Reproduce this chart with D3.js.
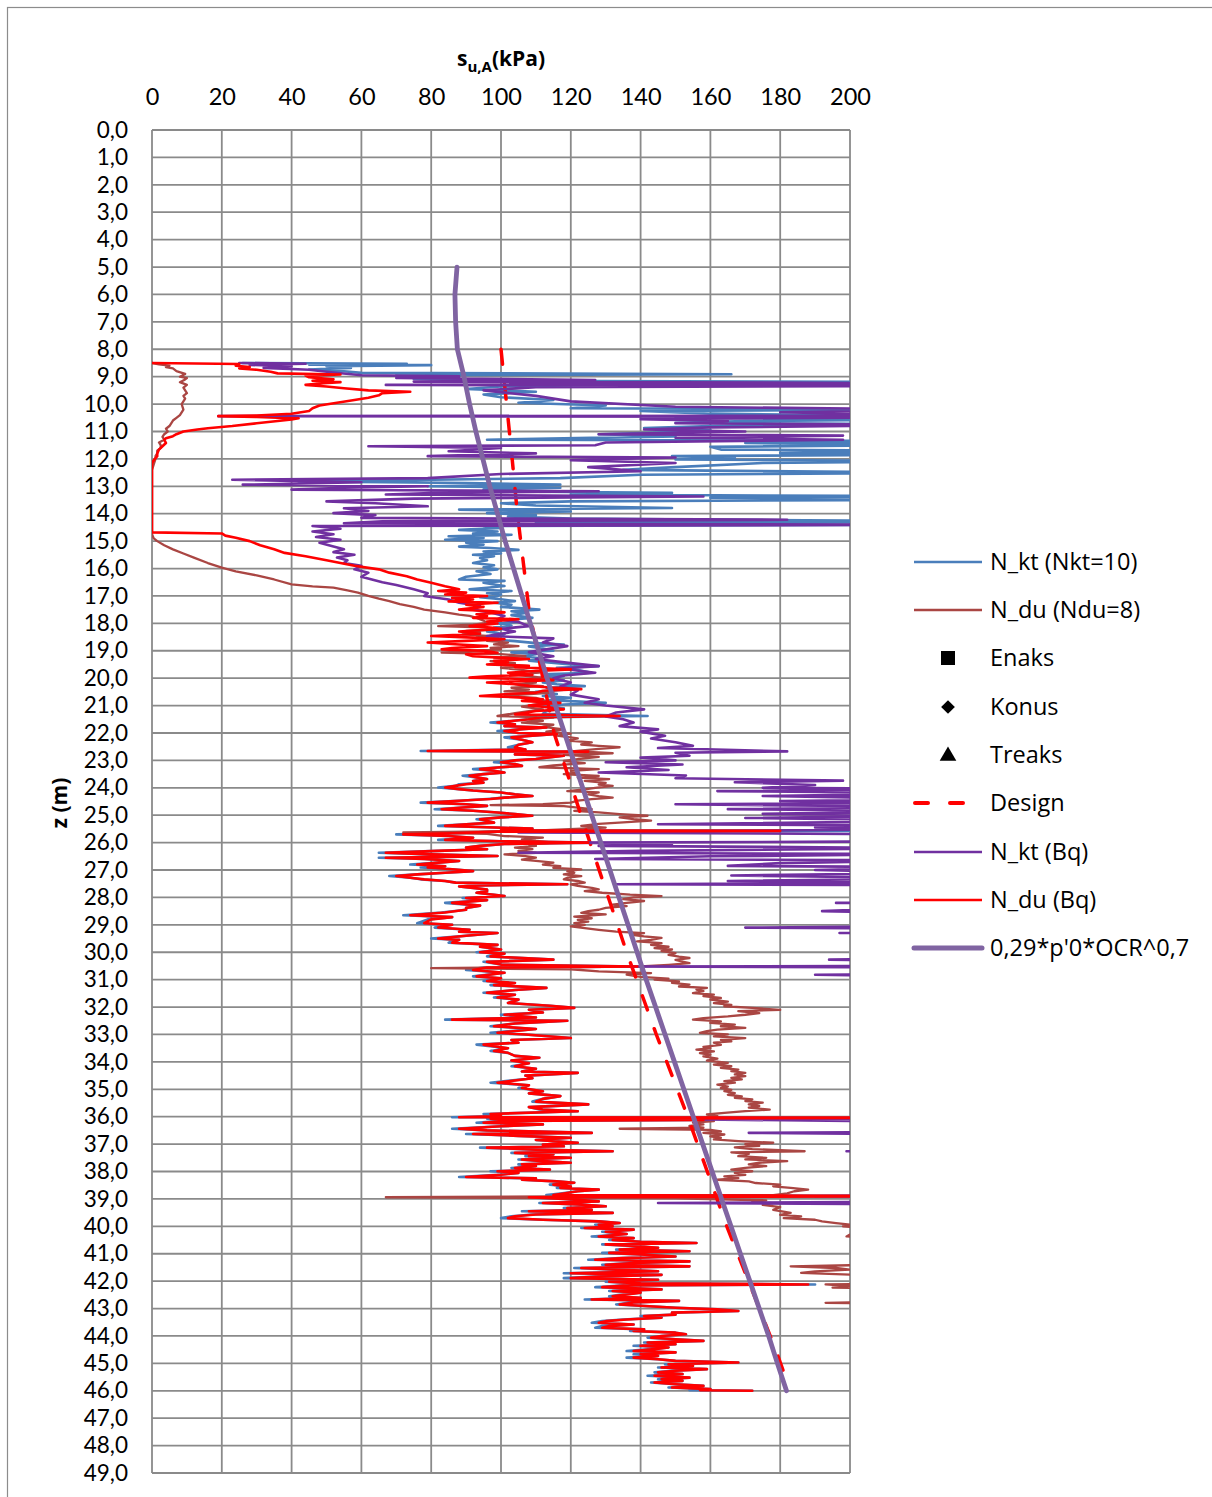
<!DOCTYPE html>
<html><head><meta charset="utf-8">
<script src="https://cdn.jsdelivr.net/npm/d3@7/dist/d3.min.js"></script>
<style>body{margin:0;background:#fff}svg{display:block}</style>
</head><body>
<script>
// ---------- DATA (depth z [m], s_u [kPa]) ----------
const xTicks = [0,20,40,60,80,100,120,140,160,180,200];
const yTicks = d3.range(0,50,1);
const legendLabels = ["N_kt (Nkt=10)","N_du (Ndu=8)","Enaks","Konus","Treaks","Design","N_kt (Bq)","N_du (Bq)","0,29*p'0*OCR^0,7"];

const nktUpper = [[8.50,26],[8.53,73],[8.56,45],[8.58,80],[8.62,50],[8.68,57],[8.74,45],[8.8,55],[8.86,60],[8.91,166],[8.95,70],[9.02,88],[9.08,75],[9.15,95],[9.2,230],[9.24,110],[9.3,127],[9.36,100],[9.45,90],[9.55,110],[9.65,95],[9.75,100],[9.85,115],[9.95,105],[10.05,130],[10.15,120],[10.2,230],[10.25,140],[10.35,160],[10.45,230],[10.5,150],[10.55,230],[10.62,170],[10.68,150],[10.74,230],[10.8,160],[10.87,141],[10.95,160],[11.02,150],[11.1,128],[11.18,150],[11.3,96],[11.35,230],[11.42,170],[11.48,230],[11.56,160],[11.66,163],[11.7,230],[11.78,180],[11.84,230],[11.9,149],[11.96,167],[12.02,150],[12.09,230],[12.15,175],[12.3,150],[12.4,135],[12.51,230],[12.58,140],[12.7,117],[12.82,42],[12.88,90],[12.94,117],[13.0,79],[13.05,117],[13.12,95],[13.2,110],[13.24,149],[13.3,120],[13.37,230],[13.42,160],[13.49,230],[13.55,120],[13.62,100],[13.7,110],[13.79,149],[13.85,88],[13.92,120],[13.98,96],[14.05,110],[14.1,102],[14.18,120],[14.28,230],[14.32,110],[14.4,230],[14.45,95],[14.52,100],[14.59,88],[14.65,99],[14.72,92],[14.77,103],[14.82,85],[14.88,95],[14.95,84],[15.0,99],[15.06,90],[15.13,95],[15.2,88],[15.25,97],[15.32,105],[15.38,95],[15.45,100],[15.5,92],[15.55,98],[15.62,94],[15.7,96],[15.8,92],[15.88,98],[15.95,95],[16.03,99],[16.1,93],[16.2,97],[16.3,90],[16.4,88],[16.45,101],[16.52,95],[16.58,98],[16.64,101],[16.7,96],[16.76,91],[16.82,103],[16.9,96],[16.95,100],[17.0,99],[17.05,94],[17.12,100],[17.19,104],[17.25,98],[17.32,103],[17.4,100],[17.5,111],[17.56,103],[17.62,107],[17.7,103],[17.8,109],[17.88,101],[17.95,105],[18.0,99],[18.08,103],[18.15,98],[18.22,100],[18.3,96],[18.4,101],[18.5,99],[18.58,97],[18.65,104],[18.72,110],[18.77,118],[18.84,108],[18.92,112],[19.0,115],[19.06,103],[19.13,110],[19.2,106],[19.28,112],[19.36,108],[19.45,116],[19.5,120],[19.56,128],[19.62,116],[19.7,122],[19.8,126],[19.86,112],[19.93,118],[20.0,110],[20.08,118],[20.16,112],[20.22,116],[20.29,124],[20.35,113],[20.42,118],[20.5,110],[20.58,116],[20.65,112],[20.72,120],[20.8,114],[20.9,130],[20.96,118],[21.04,112],[21.1,118],[21.2,113],[21.3,112],[21.38,142],[21.42,112]];

const nktLower = [[21.5,108],[21.56,103],[21.62,97],[21.68,104],[21.75,101],[21.8,113],[21.86,106],[21.93,99],[22.0,105],[22.04,116],[22.1,109],[22.16,101],[22.25,106],[22.34,109],[22.43,105],[22.52,102],[22.6,107],[22.66,77],[22.68,125],[22.72,112],[22.78,104],[22.83,118],[22.9,113],[22.95,110],[23.0,104],[23.07,98],[23.13,104],[23.2,106],[23.26,99],[23.32,92],[23.38,98],[23.44,101],[23.5,95],[23.56,89],[23.62,93],[23.68,96],[23.75,92],[23.81,95],[23.87,88],[23.93,87],[23.99,82],[24.05,88],[24.1,92],[24.17,100],[24.24,104],[24.3,109],[24.36,101],[24.41,96],[24.47,88],[24.54,77],[24.6,90],[24.66,96],[24.72,89],[24.78,81],[24.84,92],[24.9,99],[24.96,104],[25.02,109],[25.08,100],[25.15,93],[25.21,96],[25.27,98],[25.33,90],[25.39,82],[25.44,96],[25.49,109],[25.55,100],[25.57,230],[25.6,99],[25.66,86],[25.7,70],[25.76,85],[25.82,92],[25.86,88],[25.9,82],[25.95,100],[26.0,125],[26.05,101],[26.12,94],[26.18,90],[26.24,96],[26.3,82],[26.37,65],[26.43,80],[26.49,99],[26.52,84],[26.55,65],[26.6,78],[26.67,88],[26.73,82],[26.8,74],[26.86,84],[26.91,77],[26.97,86],[27.04,92],[27.1,84],[27.16,76],[27.22,68],[27.28,74],[27.34,77],[27.4,84],[27.46,87],[27.52,119],[27.56,94],[27.6,88],[27.65,92],[27.71,96],[27.77,96],[27.83,93],[27.9,98],[27.95,101],[28.02,89],[28.1,96],[28.2,84],[28.3,94],[28.38,90],[28.45,90],[28.55,83],[28.65,72],[28.72,86],[28.8,79],[28.94,76],[29.0,86],[29.1,81],[29.18,91],[29.25,88],[29.3,99],[29.4,90],[29.5,80],[29.55,88],[29.65,85],[29.73,99],[29.8,94],[29.9,100],[30.0,93],[30.05,101],[30.15,96],[30.27,115],[30.35,95],[30.45,100],[30.52,139],[30.56,95],[30.65,90],[30.75,101],[30.88,92],[30.95,100],[31.05,95],[31.12,104],[31.2,97],[31.3,113],[31.38,104],[31.48,95],[31.55,104],[31.65,98],[31.73,105],[31.85,102],[31.95,114],[32.03,121],[32.1,108],[32.2,112],[32.28,100],[32.38,110],[32.46,84],[32.5,119],[32.6,104],[32.7,97],[32.8,110],[32.94,97],[33.0,107],[33.13,120],[33.2,103],[33.3,105],[33.37,93],[33.5,102],[33.6,97],[33.67,102],[33.78,104],[33.85,111],[33.95,103],[34.05,108],[34.16,103],[34.25,110],[34.35,106],[34.4,122],[34.5,107],[34.6,109],[34.76,97],[34.85,108],[34.95,105],[35.07,112],[35.15,108],[35.25,117],[35.35,112],[35.45,109],[35.55,125],[35.65,108],[35.74,111],[35.8,122],[35.9,95],[35.98,100],[36.02,86],[36.04,230],[36.07,96],[36.12,158],[36.16,99],[36.22,93],[36.28,112],[36.35,100],[36.44,86],[36.5,96],[36.59,126],[36.63,90],[36.7,105],[36.77,120],[36.85,110],[36.95,122],[37.02,112],[37.08,118],[37.13,94],[37.2,110],[37.26,132],[37.32,103],[37.38,115],[37.44,107],[37.5,120],[37.56,105],[37.62,112],[37.68,120],[37.74,105],[37.8,110],[37.87,103],[37.93,114],[37.99,97],[38.05,105],[38.12,99],[38.2,88],[38.25,110],[38.3,106],[38.36,116],[38.41,121],[38.48,114],[38.55,120],[38.6,116],[38.66,128],[38.72,122],[38.8,117],[38.86,113],[38.9,230],[38.94,107],[39.0,118],[39.09,128],[39.15,111],[39.2,122],[39.27,130],[39.33,118],[39.4,126],[39.45,106],[39.51,132],[39.57,109],[39.63,103],[39.7,100],[39.76,112],[39.82,128],[39.88,134],[39.94,127],[40.0,132],[40.06,123],[40.12,138],[40.2,129],[40.28,136],[40.37,126],[40.43,138],[40.5,131],[40.56,140],[40.61,156],[40.66,129],[40.72,138],[40.78,145],[40.85,133],[40.91,154],[40.97,129],[41.03,140],[41.1,150],[41.16,134],[41.22,125],[41.28,154],[41.34,137],[41.4,129],[41.46,154],[41.52,121],[41.58,133],[41.64,145],[41.71,118],[41.77,146],[41.83,127],[41.89,118],[41.95,145],[42.02,130],[42.08,140],[42.12,190],[42.16,134],[42.22,127],[42.3,146],[42.36,131],[42.42,140],[42.5,134],[42.55,131],[42.61,140],[42.67,124],[42.72,151],[42.78,137],[42.85,133],[42.9,140],[42.97,150],[43.03,162],[43.09,168],[43.15,149],[43.22,150],[43.27,140],[43.33,146],[43.4,135],[43.46,129],[43.52,126],[43.58,138],[43.64,129],[43.7,127],[43.76,141],[43.82,137],[43.88,150],[43.94,153],[44.0,146],[44.06,142],[44.12,150],[44.18,158],[44.24,141],[44.3,150],[44.36,138],[44.42,148],[44.48,143],[44.55,136],[44.6,150],[44.67,138],[44.73,145],[44.79,136],[44.85,145],[44.91,150],[44.97,168],[45.03,147],[45.09,155],[45.15,145],[45.21,159],[45.27,149],[45.33,144],[45.39,152],[45.45,142],[45.52,154],[45.58,145],[45.64,152],[45.7,143],[45.76,150],[45.82,158],[45.88,148],[45.94,160],[45.98,154],[46.0,172]];

const nduNdu8 = [[8.5,0],[8.55,2],[8.6,5],[8.65,4],[8.7,6],[8.8,7],[8.9,9.5],[9.0,8],[9.05,10],[9.1,9.5],[9.2,8],[9.3,10],[9.4,9],[9.5,9.5],[9.6,10],[9.7,9],[9.8,9.5],[9.9,9],[10.0,8.5],[10.2,9],[10.4,8],[10.5,7],[10.6,6],[10.7,5.5],[10.8,5],[10.9,4],[11.0,4.5],[11.1,3.5],[11.2,3],[11.3,3.5],[11.4,2],[11.5,2.5],[11.6,2.5],[11.7,1.5],[11.8,1.5],[11.9,1],[12.0,1],[12.2,0.5],[12.4,0],[14.75,0],[14.9,0.5],[15.0,1.5],[15.15,3.5],[15.3,6],[15.45,9],[15.6,12],[15.8,16],[15.97,20],[16.1,24],[16.25,30],[16.4,35],[16.58,40],[16.65,46],[16.7,52],[16.8,56],[16.88,59],[17.0,62],[17.1,65],[17.19,68],[17.3,71],[17.4,75],[17.5,78],[17.6,84],[17.68,88],[17.73,91],[17.8,93],[17.9,95],[17.98,96],[18.05,92],[18.1,82],[18.15,95],[18.22,99],[18.28,90],[18.34,94],[18.4,89],[18.46,96],[18.52,93],[18.58,100],[18.64,96],[18.7,102],[18.77,98],[18.83,105],[18.9,97],[18.95,100],[19.0,92],[19.07,83],[19.12,100],[19.2,107],[19.25,98],[19.3,103],[19.38,97],[19.45,104],[19.5,101],[19.56,108],[19.62,100],[19.7,106],[19.8,111],[19.86,104],[19.93,108],[20.04,115],[20.1,106],[20.16,110],[20.22,104],[20.29,112],[20.35,103],[20.42,108],[20.48,101],[20.53,115],[20.6,106],[20.65,101],[20.72,110],[20.8,112],[20.9,115],[20.96,110],[21.04,106],[21.14,112],[21.2,108],[21.28,104],[21.38,99],[21.44,115],[21.5,108],[21.56,112],[21.62,106],[21.7,115],[21.78,112],[21.87,118],[21.95,113],[22.02,120],[22.1,116],[22.2,122],[22.28,119],[22.34,126],[22.42,123],[22.47,128],[22.52,134],[22.58,128],[22.66,121],[22.74,132],[22.8,118],[22.87,128],[22.95,122],[23.02,118],[23.1,124],[23.18,115],[23.25,111],[23.32,128],[23.38,120],[23.44,122],[23.5,118],[23.57,128],[23.63,122],[23.68,131],[23.75,124],[23.82,130],[23.88,128],[23.93,132],[24.0,127],[24.06,124],[24.12,119],[24.17,128],[24.24,125],[24.3,128],[24.36,132],[24.41,126],[24.47,122],[24.54,120],[24.6,112],[24.63,97],[24.67,118],[24.72,122],[24.78,126],[24.84,121],[24.9,128],[24.96,134],[25.02,142],[25.08,134],[25.14,138],[25.2,143],[25.26,135],[25.32,128],[25.39,123],[25.45,130],[25.52,118],[25.58,106],[25.63,72],[25.68,96],[25.76,101],[25.82,112],[25.88,106],[25.94,110],[26.0,115],[26.06,108],[26.12,110],[26.18,104],[26.24,109],[26.3,105],[26.37,110],[26.43,101],[26.49,107],[26.55,110],[26.62,106],[26.67,110],[26.73,115],[26.8,112],[26.86,117],[26.92,115],[26.98,123],[27.04,119],[27.1,121],[27.16,118],[27.22,123],[27.28,119],[27.34,118],[27.4,122],[27.46,124],[27.52,120],[27.58,122],[27.65,126],[27.71,128],[27.77,124],[27.83,129],[27.9,137],[27.95,146],[28.0,138],[28.06,135],[28.13,141],[28.2,136],[28.26,132],[28.32,136],[28.38,130],[28.45,128],[28.5,125],[28.56,123],[28.62,130],[28.7,121],[28.76,126],[28.82,122],[28.88,125],[28.94,121],[29.0,124],[29.06,120],[29.12,124],[29.18,128],[29.25,133],[29.3,141],[29.36,137],[29.42,141],[29.48,146],[29.55,143],[29.6,139],[29.67,146],[29.73,143],[29.8,148],[29.85,144],[29.9,149],[29.96,146],[30.03,150],[30.1,148],[30.16,151],[30.21,154],[30.28,150],[30.34,152],[30.4,154],[30.46,148],[30.52,140],[30.58,80],[30.62,120],[30.7,128],[30.76,143],[30.82,136],[30.9,140],[30.96,148],[31.0,144],[31.06,151],[31.12,149],[31.18,154],[31.25,151],[31.3,159],[31.36,156],[31.42,158],[31.49,155],[31.55,161],[31.6,158],[31.67,163],[31.73,160],[31.8,165],[31.86,161],[31.92,166],[31.97,164],[32.03,172],[32.1,180],[32.15,168],[32.22,174],[32.28,170],[32.34,165],[32.4,158],[32.46,155],[32.52,163],[32.58,160],[32.64,167],[32.7,163],[32.76,170],[32.82,162],[32.88,159],[32.94,157],[33.0,165],[33.07,161],[33.13,170],[33.2,163],[33.25,166],[33.3,161],[33.38,163],[33.45,158],[33.5,160],[33.55,156],[33.62,161],[33.68,157],[33.74,160],[33.8,158],[33.88,162],[33.95,159],[34.04,165],[34.1,161],[34.16,166],[34.22,163],[34.28,168],[34.34,166],[34.4,170],[34.46,167],[34.52,170],[34.58,166],[34.64,169],[34.7,164],[34.76,167],[34.83,162],[34.9,165],[34.96,163],[35.02,166],[35.07,164],[35.14,167],[35.2,165],[35.26,169],[35.31,167],[35.37,172],[35.43,170],[35.49,175],[35.55,171],[35.61,174],[35.67,171],[35.74,177],[35.8,170],[35.86,164],[35.92,159],[35.98,162],[36.04,158],[36.1,157],[36.16,161],[36.22,155],[36.28,158],[36.34,154],[36.4,158],[36.44,134],[36.48,160],[36.54,163],[36.59,158],[36.65,164],[36.72,160],[36.77,163],[36.83,161],[36.89,168],[36.95,178],[37.0,170],[37.06,174],[37.12,167],[37.18,172],[37.26,187],[37.3,166],[37.36,171],[37.44,168],[37.5,176],[37.56,170],[37.62,182],[37.68,174],[37.74,171],[37.8,176],[37.87,170],[37.93,166],[37.99,172],[38.05,167],[38.12,170],[38.18,164],[38.24,168],[38.3,162],[38.36,171],[38.42,173],[38.48,180],[38.54,178],[38.6,183],[38.66,188],[38.72,184],[38.8,182],[38.86,178],[38.94,67],[38.98,150],[39.05,176],[39.1,172],[39.15,178],[39.22,175],[39.3,180],[39.4,178],[39.51,183],[39.58,180],[39.64,186],[39.7,181],[39.76,190],[39.82,192],[39.88,196],[39.94,200],[40.0,198],[40.06,205],[40.15,230],[40.3,200],[40.37,199],[40.45,230],[41.35,230],[41.46,183],[41.52,196],[41.58,200],[41.64,190],[41.7,186],[41.76,200],[41.84,230],[42.05,230],[42.12,193],[42.18,200],[42.24,195],[42.3,230],[42.7,230],[42.79,193],[42.85,230],[46.0,230]];

const designLine = [[8.0,100],[10,101.6],[12,103.2],[14,104.7],[16,106.6],[17.5,108],[22,115.2],[26,125.5],[30,136],[33,144.5],[36,153.5],[40,164.7],[44.6,179],[45.4,181.2]];

const nktBq = [[8.50,25],[8.53,44],[8.57,28],[8.62,40],[8.68,32],[8.75,45],[8.85,52],[8.95,60],[8.99,88],[9.05,70],[9.12,127],[9.18,75],[9.24,230],[9.30,67],[9.34,230],[9.38,110],[9.5,95],[9.7,110],[9.9,120],[10.1,150],[10.2,230],[10.3,180],[10.42,230],[10.44,19],[10.47,230],[10.55,140],[10.62,165],[10.7,150],[10.76,230],[10.85,160],[10.93,141],[11.0,170],[11.1,128],[11.15,198],[11.23,150],[11.3,198],[11.4,130],[11.5,127],[11.54,62],[11.6,100],[11.72,85],[11.8,110],[11.9,79],[11.95,150],[12.05,120],[12.15,150],[12.3,125],[12.45,140],[12.55,100],[12.7,79],[12.76,23],[12.85,60],[12.94,26],[13.0,79],[13.05,55],[13.12,40],[13.18,128],[13.25,80],[13.3,67],[13.37,158],[13.45,75],[13.55,50],[13.62,64],[13.73,79],[13.8,55],[13.9,62],[13.98,52],[14.05,64],[14.15,60],[14.22,182],[14.28,66],[14.35,55],[14.4,230],[14.45,46],[14.55,54],[14.65,46],[14.75,52],[14.85,47],[14.95,54],[15.06,48],[15.2,52],[15.3,55],[15.4,52],[15.5,58],[15.6,53],[15.7,56],[15.8,55],[15.9,60],[16.03,58],[16.15,62],[16.3,60],[16.4,63],[16.5,66],[16.6,70],[16.76,75],[16.9,79],[17.0,78],[17.13,85],[17.25,88],[17.37,94],[17.5,92],[17.6,97],[17.73,101],[17.85,99],[17.95,105],[18.1,108],[18.2,100],[18.3,104],[18.46,96],[18.55,115],[18.7,112],[18.83,119],[18.95,113],[19.05,108],[19.2,115],[19.3,110],[19.45,120],[19.56,128],[19.65,117],[19.8,127],[19.9,118],[20.0,115],[20.16,120],[20.3,117],[20.45,122],[20.6,120],[20.77,128],[20.9,124],[21.0,130],[21.14,141],[21.25,133],[21.4,130],[21.5,135],[21.62,138],[21.75,134],[21.87,145],[21.95,140],[22.1,147],[22.2,143],[22.34,150],[22.47,155],[22.55,145],[22.67,182],[22.72,150],[22.83,154],[22.9,140],[23.0,150],[23.07,130],[23.15,152],[23.25,136],[23.35,148],[23.44,128],[23.55,153],[23.65,150],[23.74,198],[23.8,167],[23.9,190],[24.0,175],[24.05,230],[24.12,162],[24.2,230],[24.3,175],[24.41,230],[24.48,180],[24.54,230],[24.6,150],[24.7,230],[24.78,165],[24.85,230],[24.95,175],[25.02,230],[25.1,170],[25.2,230],[25.33,145],[25.38,230],[25.45,190],[25.5,230],[25.63,105],[25.7,230],[25.95,230],[26.0,121],[26.05,149],[26.12,128],[26.2,230],[26.3,140],[26.37,105],[26.42,230],[26.5,160],[26.6,127],[26.65,230],[26.75,180],[26.85,165],[26.9,230],[27.0,190],[27.1,230],[27.2,166],[27.3,230],[27.4,165],[27.46,230],[27.52,133],[27.56,230],[28.15,230],[28.2,196],[28.3,230],[28.5,192],[28.6,230],[29.05,230],[29.1,170],[29.15,230],[29.3,197],[29.4,230],[30.2,230],[30.27,194],[30.35,230],[30.5,230],[30.52,134],[30.56,230],[30.8,230],[30.82,190],[30.9,230],[36.05,230],[36.1,158],[36.2,230],[36.55,230],[36.59,171],[36.65,230],[37.22,230],[37.26,199],[37.3,230],[38.85,230],[38.9,190],[38.95,230],[39.1,230],[39.15,145],[39.2,230],[46.0,230]];

const nduBq = [[8.50,0],[8.54,25],[8.6,24],[8.65,28],[8.7,25],[8.75,30],[8.82,34],[8.88,36],[8.92,54],[8.96,44],[9.02,45],[9.1,52],[9.15,46],[9.2,54],[9.25,48],[9.3,44],[9.36,50],[9.42,55],[9.5,62],[9.55,74],[9.6,66],[9.68,65],[9.77,62],[9.85,58],[9.95,53],[10.05,48],[10.15,46],[10.25,45],[10.35,40],[10.42,30],[10.44,19],[10.47,30],[10.52,42],[10.56,40],[10.62,36],[10.7,30],[10.8,23],[10.88,16],[10.93,13],[11.0,9],[11.1,7],[11.17,6],[11.25,4],[11.3,3.5],[11.42,4],[11.54,3],[11.66,2],[11.8,1.5],[11.9,1.5],[12.05,0.5],[12.15,0],[14.68,0],[14.72,20],[14.8,21],[14.88,24],[15.0,28],[15.15,31],[15.3,35],[15.43,38],[15.55,44],[15.7,50],[15.8,54],[15.9,58],[16.03,65],[16.15,68],[16.28,73],[16.4,76],[16.52,80],[16.65,84],[16.76,88],[16.82,82],[16.88,90],[16.95,84],[17.0,96],[17.07,86],[17.13,92],[17.2,85],[17.25,99],[17.32,90],[17.4,95],[17.5,88],[17.55,97],[17.6,101],[17.67,93],[17.73,96],[17.8,92],[17.85,105],[17.93,96],[18.0,99],[18.1,91],[18.15,97],[18.2,100],[18.3,88],[18.38,94],[18.46,80],[18.52,92],[18.58,101],[18.64,90],[18.7,79],[18.77,88],[18.83,96],[18.9,86],[18.95,83],[19.0,95],[19.07,99],[19.13,90],[19.2,92],[19.25,100],[19.3,108],[19.37,98],[19.43,102],[19.5,96],[19.55,108],[19.6,104],[19.68,120],[19.74,110],[19.8,102],[19.88,109],[19.93,96],[19.98,91],[20.02,104],[20.07,115],[20.12,103],[20.16,96],[20.22,104],[20.28,108],[20.34,114],[20.4,123],[20.46,112],[20.53,110],[20.58,102],[20.65,94],[20.7,105],[20.77,112],[20.83,106],[20.9,117],[20.95,111],[21.0,108],[21.07,114],[21.14,118],[21.2,110],[21.26,107],[21.32,104],[21.38,134],[21.42,112],[21.5,108],[21.56,103],[21.62,99],[21.68,104],[21.75,101],[21.8,113],[21.86,106],[21.93,101],[22.0,105],[22.04,116],[22.1,109],[22.16,103],[22.25,106],[22.34,109],[22.43,105],[22.52,104],[22.6,107],[22.66,79],[22.68,125],[22.72,112],[22.78,104],[22.83,118],[22.9,113],[22.95,110],[23.0,104],[23.07,100],[23.13,104],[23.2,106],[23.26,99],[23.32,94],[23.38,98],[23.44,101],[23.5,95],[23.56,91],[23.62,93],[23.68,96],[23.75,92],[23.81,95],[23.87,90],[23.93,87],[23.99,84],[24.05,88],[24.1,92],[24.17,100],[24.24,104],[24.3,109],[24.36,101],[24.41,97],[24.47,88],[24.54,79],[24.6,90],[24.66,96],[24.72,89],[24.78,83],[24.84,92],[24.9,99],[24.96,104],[25.02,109],[25.08,100],[25.15,94],[25.21,96],[25.27,98],[25.33,90],[25.39,84],[25.44,96],[25.49,109],[25.55,100],[25.57,180],[25.6,99],[25.66,86],[25.7,72],[25.76,85],[25.82,92],[25.86,88],[25.9,84],[25.95,100],[26.0,125],[26.05,101],[26.12,94],[26.18,90],[26.24,96],[26.3,82],[26.37,67],[26.43,80],[26.49,99],[26.52,84],[26.55,67],[26.6,78],[26.67,88],[26.73,82],[26.8,76],[26.86,84],[26.91,79],[26.97,86],[27.04,92],[27.1,84],[27.16,76],[27.22,70],[27.28,74],[27.34,78],[27.4,84],[27.46,87],[27.52,119],[27.56,94],[27.6,88],[27.65,92],[27.71,96],[27.77,96],[27.83,93],[27.9,98],[27.95,101],[28.02,90],[28.1,96],[28.2,86],[28.3,94],[28.38,90],[28.45,90],[28.55,84],[28.65,74],[28.72,86],[28.8,80],[28.94,78],[29.0,86],[29.1,82],[29.18,91],[29.25,88],[29.3,99],[29.4,90],[29.5,82],[29.55,88],[29.65,86],[29.73,99],[29.8,94],[29.9,100],[30.0,94],[30.05,101],[30.15,97],[30.27,115],[30.35,96],[30.45,100],[30.52,139],[30.56,96],[30.65,92],[30.75,101],[30.88,93],[30.95,100],[31.05,96],[31.12,104],[31.2,98],[31.3,113],[31.38,104],[31.48,96],[31.55,104],[31.65,99],[31.73,105],[31.85,102],[31.95,114],[32.03,121],[32.1,108],[32.2,112],[32.28,101],[32.38,110],[32.46,86],[32.5,119],[32.6,104],[32.7,98],[32.8,110],[32.94,99],[33.0,107],[33.13,120],[33.2,103],[33.3,105],[33.37,95],[33.5,102],[33.6,98],[33.67,102],[33.78,104],[33.85,111],[33.95,103],[34.05,108],[34.16,104],[34.25,110],[34.35,106],[34.4,122],[34.5,107],[34.6,109],[34.76,99],[34.85,108],[34.95,106],[35.07,112],[35.15,108],[35.25,117],[35.35,112],[35.45,110],[35.55,125],[35.65,108],[35.74,112],[35.8,122],[35.9,97],[35.98,100],[36.02,88],[36.04,230],[36.07,97],[36.12,158],[36.16,100],[36.22,95],[36.28,112],[36.35,100],[36.44,88],[36.5,96],[36.59,126],[36.63,92],[36.7,105],[36.77,120],[36.85,110],[36.95,122],[37.02,112],[37.08,118],[37.13,96],[37.2,110],[37.26,132],[37.32,104],[37.38,115],[37.44,108],[37.5,120],[37.56,106],[37.62,112],[37.68,120],[37.74,106],[37.8,110],[37.87,104],[37.93,114],[37.99,99],[38.05,105],[38.12,100],[38.2,90],[38.25,110],[38.3,106],[38.36,116],[38.41,121],[38.48,115],[38.55,120],[38.6,117],[38.66,128],[38.72,122],[38.8,118],[38.86,115],[38.9,230],[38.94,108],[39.0,118],[39.09,128],[39.15,112],[39.2,122],[39.27,130],[39.33,119],[39.4,126],[39.45,108],[39.51,132],[39.57,110],[39.63,104],[39.7,102],[39.76,112],[39.82,128],[39.88,134],[39.94,128],[40.0,132],[40.06,124],[40.12,138],[40.2,130],[40.28,136],[40.37,128],[40.43,138],[40.5,132],[40.56,140],[40.61,156],[40.66,130],[40.72,138],[40.78,145],[40.85,134],[40.91,154],[40.97,131],[41.03,140],[41.1,150],[41.16,135],[41.22,127],[41.28,154],[41.34,138],[41.4,130],[41.46,154],[41.52,123],[41.58,133],[41.64,145],[41.71,120],[41.77,146],[41.83,128],[41.89,120],[41.95,145],[42.02,131],[42.08,140],[42.12,188],[42.16,135],[42.22,129],[42.3,146],[42.36,132],[42.42,140],[42.5,135],[42.55,132],[42.61,140],[42.67,126],[42.72,151],[42.78,138],[42.85,134],[42.9,140],[42.97,150],[43.03,162],[43.09,168],[43.15,149],[43.22,150],[43.27,141],[43.33,146],[43.4,136],[43.46,130],[43.52,128],[43.58,138],[43.64,131],[43.7,129],[43.76,141],[43.82,138],[43.88,150],[43.94,153],[44.0,146],[44.06,143],[44.12,150],[44.18,158],[44.24,142],[44.3,150],[44.36,140],[44.42,148],[44.48,144],[44.55,138],[44.6,150],[44.67,140],[44.73,145],[44.79,138],[44.85,145],[44.91,150],[44.97,168],[45.03,148],[45.09,155],[45.15,146],[45.21,159],[45.27,150],[45.33,145],[45.39,152],[45.45,144],[45.52,154],[45.58,146],[45.64,152],[45.7,144],[45.76,150],[45.82,158],[45.88,149],[45.94,160],[45.98,157],[46.0,172]];

const ocrLine = [[5,87.4],[6,86.8],[7,87.0],[8,87.5],[9,89.4],[10,91.0],[11,92.8],[12,94.8],[13,96.8],[14,99.0],[15,101.2],[16,103.6],[17,106.0],[18,108.4],[19,110.8],[20,113.2],[21,115.6],[22,118.2],[23,120.8],[24,123.4],[25,126.0],[26,128.6],[27,131.2],[28,133.8],[29,136.4],[30,139.0],[31,141.6],[32,144.3],[33,147.0],[34,149.7],[35,152.4],[36,155.1],[37,157.8],[38,160.5],[39,163.2],[40,165.9],[41,168.6],[42,171.3],[43,174.0],[44,176.7],[45,179.2],[46,181.8]];

// ---------- CHART ----------
const W = 1212, H = 1497;
const FONT = "'Open Sans','Noto Sans',sans-serif";
const TICKFONT = "Lato,'Open Sans',sans-serif";
const svg = d3.select("body").append("svg").attr("width", W).attr("height", H)
  .style("font-family", FONT);
svg.append("rect").attr("width", W).attr("height", H).attr("fill", "#fff");
svg.append("rect").attr("x", 7.5).attr("y", 7.5).attr("width", 1300).attr("height", 1600)
  .attr("fill", "none").attr("stroke", "#8c8c8c").attr("stroke-width", 1.2);

const x = d3.scaleLinear().domain([0, 200]).range([152, 850]);
const y = d3.scaleLinear().domain([0, 49]).range([130, 1473]);

// grid
const grid = svg.append("g").attr("stroke", "#8a8a8a").attr("stroke-width", 1.8);
grid.selectAll("line.v").data(xTicks).join("line")
  .attr("x1", d => x(d)).attr("x2", d => x(d)).attr("y1", y(0)).attr("y2", y(49));
grid.selectAll("line.h").data(yTicks).join("line")
  .attr("y1", d => y(d)).attr("y2", d => y(d)).attr("x1", x(0)).attr("x2", x(200));
grid.append("line").attr("y1", y(49)).attr("y2", y(49)).attr("x1", x(0)).attr("x2", x(200));

// axes
const fmtY = d => d3.format(".1f")(d).replace(".", ",");
const xAxis = svg.append("g").attr("transform", `translate(0,${y(0)})`)
  .call(d3.axisTop(x).tickValues(xTicks).tickSize(0).tickPadding(25).tickFormat(d3.format("d")));
const yAxis = svg.append("g").attr("transform", `translate(${x(0)},0)`)
  .call(d3.axisLeft(y).tickValues(yTicks).tickSize(0).tickPadding(24).tickFormat(fmtY));
[xAxis, yAxis].forEach(a => {
  a.select(".domain").remove();
  a.selectAll("text").attr("fill", "#000").attr("font-family", TICKFONT);
});
xAxis.selectAll("text").attr("font-size", 23.5);
yAxis.selectAll("text").attr("font-size", 22.5);

// titles
const title = svg.append("text").attr("x", 501).attr("y", 66).attr("text-anchor", "middle")
  .attr("font-weight", "bold").attr("font-size", 21).attr("fill", "#000");
title.append("tspan").text("s");
title.append("tspan").attr("dy", 6).attr("font-size", 15).text("u,A");
title.append("tspan").attr("dy", -6).text("(kPa)");
svg.append("text").attr("transform", "translate(67,803) rotate(-90)").attr("text-anchor", "middle")
  .attr("font-weight", "bold").attr("font-size", 21).attr("fill", "#000").text("z (m)");

// series
svg.append("clipPath").attr("id", "plotclip").append("rect")
  .attr("x", x(0)).attr("y", y(0)).attr("width", x(200) - x(0)).attr("height", y(49) - y(0));
const plot = svg.append("g").attr("clip-path", "url(#plotclip)");
const line = d3.line().x(d => x(d[1])).y(d => y(d[0]));
const draw = (data, color, width, extra) => {
  const p = plot.append("path").datum(data).attr("d", line).attr("fill", "none")
    .attr("stroke", color).attr("stroke-width", width).attr("stroke-linejoin", "round").attr("stroke-linecap", "round");
  if (extra) extra(p);
  return p;
};
draw(nktUpper.concat(nktLower), "#4A7EBB", 2.6);
draw(nduNdu8, "#AA4643", 2.3);
draw(designLine, "#FF0000", 3.5, p => p.attr("stroke-dasharray", "15,20"));
draw(nktBq, "#7030A0", 2.6);
draw(nduBq, "#FF0000", 2.6);
draw(ocrLine, "#8064A2", 4.8);

// legend
const legY = [562, 610, 658, 707, 755, 803, 852, 900, 948];
const leg = svg.append("g");
legendLabels.forEach((lab, i) => {
  leg.append("text").attr("x", 990).attr("y", legY[i]).attr("dy", "0.35em")
    .attr("font-size", 23.5).attr("fill", "#000").text(lab);
});
const ln = (i, color, w, dash) => {
  const l = leg.append("line").attr("x1", 914).attr("x2", 982).attr("y1", legY[i]).attr("y2", legY[i])
    .attr("stroke", color).attr("stroke-width", w);
  if (dash) l.attr("stroke-dasharray", dash).attr("stroke-linecap", "round").attr("x1", 915).attr("x2", 968);
  return l;
};
ln(0, "#4A7EBB", 2.6);
ln(1, "#AA4643", 2.6);
leg.append("rect").attr("x", 941).attr("y", legY[2] - 7).attr("width", 14).attr("height", 14).attr("fill", "#000");
leg.append("path").attr("d", d3.symbol(d3.symbolDiamond2, 120)()).attr("transform", `translate(948,${legY[3]})`).attr("fill", "#000");
leg.append("path").attr("d", d3.symbol(d3.symbolTriangle, 120)()).attr("transform", `translate(948,${legY[4] + 1})`).attr("fill", "#000");
ln(5, "#FF0000", 4, "13,22");
ln(6, "#7030A0", 2.6);
ln(7, "#FF0000", 2.6);
ln(8, "#8064A2", 5).attr("stroke-linecap", "round");
</script>
</body></html>
